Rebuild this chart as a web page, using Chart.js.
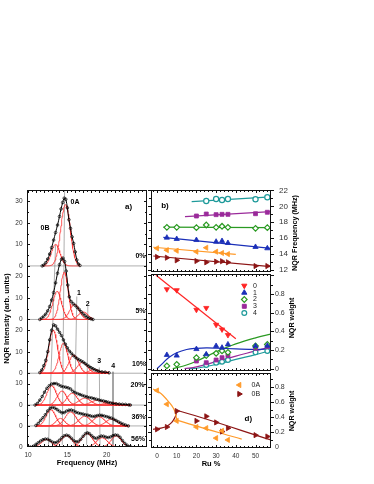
<!DOCTYPE html>
<html><head><meta charset="utf-8"><title>NQR spectra vs Ru content</title>
<script src="https://cdn.jsdelivr.net/npm/chart.js@4.4.1/dist/chart.umd.min.js"></script>
<style>
html,body{margin:0;padding:0;background:#fff;}
#wrap{position:relative;width:374px;height:484px;overflow:hidden;background:#fff;}
#wrap canvas{position:absolute;left:0;top:0;}
</style></head><body>
<div id="wrap">
<canvas id="cA" width="374" height="484"></canvas>
<canvas id="cB" width="374" height="484"></canvas>
<canvas id="cC" width="374" height="484"></canvas>
<canvas id="cD" width="374" height="484"></canvas>
</div>
<script>
// ================= DATA =================
// ---- Panel a) NQR spectra (frequency MHz, intensity arb. units) ----
const spectrumNames = ['0%', '5%', '10%', '20%', '36%', '56%'];
const spectrumOffsets = [84.2, 59.3, 34.3, 19.5, 9.8, 0];
const spectrumTickLabels = [[0, 10, 20, 30], [0, 10, 20], [0, 10, 20], [0, 10], [0], [0]];
const spectrumMinorTicks = [[5, 15, 25], [5, 15], [5, 15], [5], [5], [5]];
const freqTicks = [10, 15, 20];

const spec0 = [[11.8,0],[12.0,0.4],[12.25,1.5],[12.5,3.2],[12.75,5.5],[13.0,8.5],[13.25,12],[13.5,15.5],[13.75,19],[14.0,23],[14.2,26.5],[14.4,29.5],[14.6,31.5],[14.8,31],[15.0,27],[15.2,21.5],[15.4,17.5],[15.6,13.5],[15.8,10.5],[16.0,6.5],[16.2,2.8],[16.4,0.9],[16.6,0.2]];
const spec5 = [[11.5,0],[11.75,0.7],[12.0,1.5],[12.25,2.5],[12.5,4],[12.75,6],[13.0,9],[13.25,12.5],[13.5,17],[13.75,21.5],[14.0,25.5],[14.25,28],[14.45,28.5],[14.65,27],[14.85,22.5],[15.05,16],[15.25,10.5],[15.5,8.3],[15.75,7.3],[16.0,6.5],[16.25,5.6],[16.5,4.7],[16.75,3.6],[17.0,2.6],[17.25,1.8],[17.5,1.1],[17.75,0.6],[18.0,0.3],[18.25,0]];
const spec10 = [[11.5,0.3],[11.75,1.5],[12.0,3.5],[12.25,6],[12.5,10],[12.75,15.5],[13.0,20],[13.25,22.5],[13.5,22],[13.75,20.5],[14.0,19],[14.25,17.5],[14.5,15.5],[14.75,13.5],[15.0,11.8],[15.25,10.3],[15.5,9.3],[15.75,8.3],[16.0,7.5],[16.25,6.8],[16.5,6.2],[16.75,5.7],[17.0,5.2],[17.25,4.5],[17.5,3.8],[17.75,3.2],[18.0,2.6],[18.25,2.1],[18.5,1.6],[18.75,1.2],[19.0,0.9],[19.4,0.6],[19.8,0.5],[20.3,0.2]];
const spec20 = [[10.9,0],[11.2,0.8],[11.5,2.3],[11.8,4],[12.1,6],[12.4,7.8],[12.7,9],[13.0,9.8],[13.3,10],[13.6,10],[13.9,9.4],[14.2,8.8],[14.5,8.5],[14.8,8.3],[15.1,8],[15.4,7.5],[15.7,6.4],[16.0,5.8],[16.3,5.3],[16.6,4.9],[16.9,4.5],[17.2,4.1],[17.5,3.8],[17.8,3.5],[18.1,3.3],[18.4,3.0],[18.7,2.7],[19.0,2.4],[19.3,2.1],[19.6,1.9],[19.9,1.6],[20.2,1.3],[20.5,1.0],[20.8,0.8],[21.2,0.6],[21.6,0.45],[22.0,0.35],[22.4,0.3],[22.8,0.1],[23.0,0]];
const spec36 = [[11.0,0.2],[11.3,1.2],[11.6,2.6],[11.9,3.8],[12.2,5.2],[12.5,7],[12.8,8.2],[13.1,8.6],[13.4,8.3],[13.7,7.6],[14.0,6.8],[14.3,6.1],[14.6,6.2],[14.9,6.9],[15.2,7.3],[15.5,7.4],[15.8,7.0],[16.1,6.4],[16.4,6.0],[16.7,5.7],[17.0,5.5],[17.3,5.2],[17.6,5.0],[17.9,4.7],[18.2,4.4],[18.5,4.5],[18.8,4.8],[19.1,5.0],[19.4,4.9],[19.7,4.6],[20.0,4.3],[20.3,4.0],[20.6,3.6],[20.9,3.1],[21.2,2.5],[21.5,1.9],[21.8,1.3],[22.1,0.8],[22.4,0.4],[22.75,0]];
const spec56 = [[10.3,0],[10.7,0.4],[11.0,1.2],[11.3,2.0],[11.6,2.8],[11.9,3.4],[12.2,3.7],[12.5,3.6],[12.8,3.0],[13.1,2.3],[13.4,2.0],[13.7,2.3],[14.0,3.2],[14.3,4.3],[14.6,5.2],[14.9,5.5],[15.2,5.1],[15.5,4.1],[15.8,3.0],[16.1,2.4],[16.4,2.6],[16.7,3.6],[17.0,5.0],[17.3,6.2],[17.55,6.6],[17.8,6.2],[18.1,5.2],[18.4,4.3],[18.7,4.0],[19.0,4.6],[19.3,5.1],[19.6,5.0],[19.9,4.6],[20.2,4.4],[20.5,4.7],[20.8,5.3],[21.1,5.6],[21.4,5.4],[21.7,4.5],[22.0,3.0],[22.3,1.7],[22.6,0.8],[23.0,0.2]];
const spectra = [spec0, spec5, spec10, spec20, spec36, spec56];

// Gaussian components: [centre MHz, height, width MHz]
const comps0 = [[13.5,10,0.55],[14.75,28.5,0.6]];
const comps5 = [[13.7,13,0.55],[14.6,22,0.5],[15.9,7,0.6],[17.0,3.5,0.6]];
const comps10 = [[13.2,20,0.55],[14.5,14,0.55],[15.8,8.5,0.6],[16.9,5,0.65],[18.4,1.8,0.6],[20.0,0.6,0.6]];
const comps20 = [[13.0,9,0.6],[14.3,6.5,0.6],[15.6,5.5,0.65],[17.2,3.2,0.75],[18.8,2.2,0.8],[20.5,1.2,0.8]];
const comps36 = [[12.9,7.5,0.6],[14.1,3.5,0.55],[15.4,6.5,0.7],[17.2,4.5,0.75],[19.0,4.3,0.75],[20.6,3.2,0.7]];
const comps56 = [[12.35,3.5,0.65],[14.9,5.3,0.7],[17.5,6.3,0.7],[19.4,4.3,0.7],[21.2,5.2,0.65]];
const components = [comps0, comps5, comps10, comps20, comps36, comps56];

// peak-tracking guide lines: [f top, level top, f bottom, level bottom]
const guideLines = [[13.5,94,12.6,1],[14.65,119.5,14.35,1],[16.2,70,15.85,1],[17.6,65.5,17.45,1],[19.06,37,19.15,1],[20.8,35,20.8,1]];

// ---- Panels b) c) d): versus Ru % ----
const ruPercent = [0, 5, 10, 20, 25, 30, 33, 36, 50, 56];
const ruTicks = [0, 10, 20, 30, 40, 50];
const freqRightTicks = [12, 14, 16, 18, 20, 22];
const weightTicks = [0, 0.2, 0.4, 0.6, 0.8];

// b) NQR frequency (MHz)
const freq0A = [14.73, 14.5, 14.43, 14.3, 14.8, 14.3, 14.14, 14.0, null, null];
const freq0B = [13.64, 13.55, 13.22, 13.13, 12.97, 13.05, 13.1, 12.97, 12.5, 12.5];
const freq1 = [null, 16.07, 15.9, 15.77, null, 15.56, 15.65, 15.4, 14.9, 14.73];
const freq2 = [null, 17.37, 17.37, 17.32, 17.66, 17.37, 17.5, 17.37, 17.24, 17.32];
const freq3 = [null, null, null, 18.79, 19.04, 18.96, 19.0, 19.0, 19.08, 19.26];
const freq4 = [null, null, null, null, 20.68, 20.93, 20.8, 20.93, 20.9, 21.15];
const fitFreq0A = [[-1.9, 14.86], [40, 13.97]];
const fitFreq0B = [[-1.9, 13.76], [57.8, 12.42]];
const fitFreq1 = [[3.2, 16.1], [57.8, 14.72]];
const fitFreq2 = [[3.2, 17.4], [57.8, 17.32]];
const fitFreq3 = [[14.2, 18.72], [57.8, 19.33]];
const fitFreq4 = [[17.6, 20.6], [57.8, 21.2]];

// c) NQR weight of peaks 0..4
const weight0 = [null, 0.85, 0.84, 0.63, 0.65, 0.47, 0.42, 0.36, null, null];
const weight1 = [null, 0.147, 0.14, 0.21, 0.154, 0.243, 0.225, 0.26, 0.243, 0.246];
const weight2 = [null, 0.03, 0.047, 0.118, 0.14, 0.165, 0.19, 0.175, 0.243, 0.26];
const weight3 = [null, null, null, 0.082, 0.064, 0.093, 0.118, 0.14, 0.218, 0.235];
const weight4 = [null, null, null, null, 0.04, 0.064, 0.075, 0.093, 0.175, 0.19];
const fitWeight0 = [[-0.5, 1.0], [40, 0.32]];
const fitWeight1 = [[0, 0], [3, 0.06], [6, 0.12], [10, 0.17], [15, 0.205], [20, 0.218], [25, 0.222], [30, 0.22], [40, 0.212], [50, 0.207], [57.8, 0.212]];
const fitWeight2 = [[8, 0], [15, 0.04], [20, 0.08], [30, 0.18], [40, 0.265], [50, 0.33], [57.8, 0.37]];
const fitWeight3 = [[14, 0], [20, 0.02], [30, 0.075], [40, 0.135], [50, 0.19], [57.8, 0.235]];
const fitWeight4 = [[16, 0], [20, 0.005], [30, 0.045], [40, 0.1], [50, 0.15], [57.8, 0.195]];

// d) NQR weight of 0A and 0B
const weight0A = [0.75, 0.57, 0.35, 0.27, 0.255, 0.124, 0.22, 0.1, null, null];
const weight0B = [0.24, 0.27, 0.48, 0.35, 0.41, 0.33, 0.21, 0.255, 0.163, 0.145];
const fitWeight0A = [[-2, 0.77], [2, 0.71], [5, 0.63], [7.5, 0.55], [9, 0.48], [9.6, 0.42], [9.9, 0.38], [10, 0.36], [43, 0.11]];
const fitWeight0B = [[-2, 0.24], [2, 0.255], [5, 0.28], [7.5, 0.33], [9, 0.39], [9.7, 0.44], [10, 0.49], [57.8, 0.1]];

// ================= RENDERING =================
const FONT = "'Liberation Sans', Arial, Helvetica, sans-serif";
Chart.defaults.font.family = FONT;
Chart.defaults.color = '#222';

const C = {
  s0: '#ff2424', s0A: '#ff9a2a', s0B: '#8c1414', s1: '#1a2fb8', s2: '#2a9a22', s3: '#9a2a9a', s4: '#1e9a9a'
};

const toXY = arr => arr.map(([x, y]) => ({x, y}));
const pairUp = (xs, ys) => xs.map((x, i) => ys[i] == null ? null : {x, y: ys[i]}).filter(Boolean);
const steps = (a, b, s) => { const r = []; for (let v = a; v <= b + 1e-9; v += s) r.push(+v.toFixed(4)); return r; };

// frame + tick marks
const frameTicks = {
  id: 'frameTicks',
  afterDatasetsDraw(chart, args, opts) {
    const {ctx, chartArea: a} = chart;
    ctx.save();
    ctx.strokeStyle = '#111';
    ctx.lineWidth = 1;
    ctx.strokeRect(a.left + 0.5, a.top + 0.5, a.right - a.left - 1, a.bottom - a.top - 1);
    (opts.sides || []).forEach(s => {
      const sc = chart.scales[s.scale];
      const put = (vals, len) => vals.forEach(v => {
        const p = Math.round(sc.getPixelForValue(v)) + 0.5;
        ctx.beginPath();
        if (s.edge === 'top' || s.edge === 'bottom') {
          if (p < a.left || p > a.right) return;
          const y0 = s.edge === 'top' ? a.top : a.bottom;
          const d = (s.edge === 'top') === (s.dir === 'in') ? 1 : -1;
          ctx.moveTo(p, y0); ctx.lineTo(p, y0 + d * len);
        } else {
          if (p < a.top || p > a.bottom) return;
          const x0 = s.edge === 'left' ? a.left : a.right;
          const d = (s.edge === 'left') === (s.dir === 'in') ? 1 : -1;
          ctx.moveTo(x0, p); ctx.lineTo(x0 + d * len, p);
        }
        ctx.stroke();
      });
      put(s.minor || [], s.minLen || 1.5);
      put(s.major || [], s.majLen || 3);
    });
    ctx.restore();
  }
};

// free text + legend markers
const notes = {
  id: 'notes',
  afterDraw(chart, args, opts) {
    const ctx = chart.ctx;
    (opts.marks || []).forEach(m => {
      ctx.save();
      ctx.fillStyle = m.fill; ctx.strokeStyle = m.stroke; ctx.lineWidth = m.bw || 1;
      Chart.helpers.drawPoint(ctx, {pointStyle: m.style, radius: m.r, rotation: m.rot || 0, borderWidth: m.bw || 1}, m.x, m.y);
      ctx.restore();
    });
    (opts.texts || []).forEach(t => {
      ctx.save();
      ctx.font = t.font; ctx.fillStyle = t.color || '#000';
      ctx.textAlign = t.align || 'center'; ctx.textBaseline = 'middle';
      ctx.translate(t.x, t.y);
      if (t.rot) ctx.rotate(t.rot);
      ctx.fillText(t.text, 0, 0);
      ctx.restore();
    });
  }
};

const baseOpts = {
  responsive: false, animation: false, events: [],
  plugins: {legend: {display: false}, tooltip: {enabled: false}}
};
const noGrid = {display: false, drawTicks: false};

// ---------- Panel a ----------
const yValsA = [], yTextA = [], yMinorA = [];
spectrumOffsets.forEach((off, k) => {
  spectrumTickLabels[k].forEach(v => { yValsA.push(off + v); yTextA.push(String(v)); });
  spectrumMinorTicks[k].forEach(v => yMinorA.push(off + v));
});

const dsA = [];
spectra.forEach((sp, k) => {
  const off = spectrumOffsets[k];
  dsA.push({data: sp.map(([f, i]) => ({x: f, y: off + i})), showLine: true, borderColor: '#000', borderWidth: 1,
    tension: 0.3, pointRadius: 1.3, pointBorderWidth: 0.7, pointBorderColor: '#000', pointBackgroundColor: 'rgba(255,255,255,0)', order: 1});
  const f0 = sp[0][0], f1 = sp[sp.length - 1][0];
  components[k].forEach(([c, h, w]) => {
    const pts = steps(f0, f1, 0.05).map(f => ({x: f, y: off + h * Math.exp(-0.5 * ((f - c) / w) ** 2)}));
    dsA.push({data: pts, showLine: true, borderColor: '#ff3030', borderWidth: 0.8, pointRadius: 0, order: 2});
  });
  dsA.push({data: [{x: 9.87, y: off}, {x: 25.12, y: off}], showLine: true, borderColor: '#9a9a9a', borderWidth: 0.8, pointRadius: 0, order: 4});
});
guideLines.forEach(([fa, ya, fb, yb]) => {
  dsA.push({data: [{x: fa, y: ya}, {x: fb, y: yb}], showLine: true, borderColor: '#777', borderWidth: 0.6, pointRadius: 0, order: 3});
});

const boldF = s => `bold ${s}px ${FONT}`;
new Chart(document.getElementById('cA'), {
  type: 'scatter',
  data: {datasets: dsA},
  options: Object.assign({}, baseOpts, {
    layout: {padding: {left: 0, top: 190, right: 227, bottom: 0}},
    scales: {
      x: {type: 'linear', position: 'bottom', min: 9.87, max: 25.12,
        afterFit: s => { s.height = 37; },
        afterBuildTicks: s => { s.ticks = freqTicks.map(v => ({value: v})); },
        ticks: {autoSkip: false, maxRotation: 0, padding: 4, font: {size: 6.5}, color: '#333'},
        grid: noGrid, border: {display: false},
        title: {display: true, text: 'Frequency (MHz)', color: '#000', font: {size: 7.5, weight: 'bold'}, padding: {top: 0, bottom: 16.5}}},
      y: {type: 'linear', position: 'left', min: 0, max: 119.5,
        afterFit: s => { s.width = 27; },
        afterBuildTicks: s => { s.ticks = yValsA.map(v => ({value: v})); },
        ticks: {autoSkip: false, padding: 4.5, font: {size: 6.5}, color: '#333', callback: (v, i) => yTextA[i]},
        grid: noGrid, border: {display: false},
        title: {display: true, text: 'NQR Intensity (arb. units)', color: '#000', font: {size: 7.5, weight: 'bold'}, padding: {top: 2.5, bottom: 0}}}
    },
    plugins: Object.assign({}, baseOpts.plugins, {
      frameTicks: {sides: [
        {scale: 'x', edge: 'top', dir: 'in', major: steps(10, 25, 1), minor: steps(10.5, 24.5, 1), majLen: 3, minLen: 2},
        {scale: 'x', edge: 'bottom', dir: 'in', major: steps(10, 25, 1), minor: steps(10.5, 24.5, 1), majLen: 3, minLen: 2},
        {scale: 'y', edge: 'left', dir: 'in', major: yValsA, minor: yMinorA, majLen: 3, minLen: 2},
        {scale: 'y', edge: 'right', dir: 'in', major: yValsA, minor: yMinorA, majLen: 3, minLen: 2}
      ]},
      notes: {texts: [
        {text: 'a)', x: 128.5, y: 207, font: boldF(8)},
        {text: '0A', x: 75, y: 202.5, font: boldF(7)},
        {text: '0B', x: 45, y: 228.5, font: boldF(7)},
        {text: '1', x: 79, y: 293.5, font: boldF(7)},
        {text: '2', x: 87.7, y: 304, font: boldF(7)},
        {text: '3', x: 99.3, y: 361, font: boldF(7)},
        {text: '4', x: 113.3, y: 366, font: boldF(7)},
        {text: spectrumNames[0], x: 145.5, y: 256, font: boldF(7), align: 'right'},
        {text: spectrumNames[1], x: 145.5, y: 310.7, font: boldF(7), align: 'right'},
        {text: spectrumNames[2], x: 146, y: 364, font: boldF(7), align: 'right'},
        {text: spectrumNames[3], x: 144.5, y: 385, font: boldF(7), align: 'right'},
        {text: spectrumNames[4], x: 145.5, y: 417.3, font: boldF(7), align: 'right'},
        {text: spectrumNames[5], x: 145, y: 439.3, font: boldF(7), align: 'right'}
      ]}
    })
  }),
  plugins: [frameTicks, notes]
});

// ---------- helpers for right panels ----------
function markerSet(xs, ys, color, style, rot, hollow, r) {
  return {data: pairUp(xs, ys), showLine: false, pointStyle: style, pointRotation: rot || 0, pointRadius: r || 2.8,
    pointBackgroundColor: hollow ? '#fff' : color, pointBorderColor: color, pointBorderWidth: hollow ? 1.2 : 0.8, order: 1};
}
function fitLine(arr, color, tension) {
  return {data: toXY(arr), showLine: true, borderColor: color, borderWidth: 1.2, pointRadius: 0, tension: tension || 0, order: 2};
}
function rightPanel(id, top, bottom, yMin, yMax, yTicks, yFontSize, yPad, datasets, extra) {
  const isBottom = !!extra.showX;
  const cfg = {
    type: 'scatter',
    data: {datasets},
    options: Object.assign({}, baseOpts, {
      layout: {padding: {left: 151, top: top, right: 0, bottom: isBottom ? 0 : 484 - bottom}},
      scales: {
        x: {type: 'linear', min: -3.05, max: 57.86, display: isBottom, position: 'bottom',
          afterFit: s => { if (isBottom) s.height = 484 - bottom; },
          afterBuildTicks: s => { s.ticks = ruTicks.map(v => ({value: v})); },
          ticks: {autoSkip: false, maxRotation: 0, padding: 4, font: {size: 6.5}, color: '#333'},
          grid: noGrid, border: {display: false},
          title: {display: isBottom, text: 'Ru %', color: '#000', font: {size: 7.5, weight: 'bold'}, padding: {top: 0, bottom: 16}}},
        y: {type: 'linear', position: 'right', min: yMin, max: yMax,
          afterFit: s => { s.width = 103; },
          afterBuildTicks: s => { s.ticks = yTicks.map(v => ({value: v})); },
          ticks: {autoSkip: false, padding: yPad, font: {size: yFontSize}, color: '#333'},
          grid: noGrid, border: {display: false}}
      },
      plugins: Object.assign({}, baseOpts.plugins, {
        frameTicks: {sides: [
          {scale: 'x', edge: 'top', dir: 'in', major: ruTicks, minor: steps(-2, 56, 2), majLen: 3, minLen: 2},
          {scale: 'x', edge: 'bottom', dir: 'in', major: ruTicks, minor: steps(-2, 56, 2), majLen: 3, minLen: 2},
          {scale: 'y', edge: 'left', dir: 'out', major: extra.yMajor, minor: extra.yMinor, majLen: 3, minLen: 2},
          {scale: 'y', edge: 'right', dir: 'out', major: extra.yMajor, minor: extra.yMinor, majLen: 3, minLen: 2}
        ]},
        notes: {texts: extra.texts || [], marks: extra.marks || []}
      })
    }),
    plugins: [frameTicks, notes]
  };
  return new Chart(document.getElementById(id), cfg);
}

// ---------- Panel b ----------
rightPanel('cB', 190, 272, 11.75, 22.06, freqRightTicks, 8, 8, [
  markerSet(ruPercent, freq4, C.s4, 'circle', 0, true, 2.6),
  markerSet(ruPercent, freq3, C.s3, 'rect', 0, false, 2.8),
  markerSet(ruPercent, freq2, C.s2, 'rectRot', 0, true, 2.8),
  markerSet(ruPercent, freq1, C.s1, 'triangle', 0, false, 3),
  markerSet(ruPercent, freq0A, C.s0A, 'triangle', -90, false, 3),
  markerSet(ruPercent, freq0B, C.s0B, 'triangle', 90, false, 3),
  fitLine(fitFreq4, C.s4), fitLine(fitFreq3, C.s3), fitLine(fitFreq2, C.s2),
  fitLine(fitFreq1, C.s1), fitLine(fitFreq0A, C.s0A), fitLine(fitFreq0B, C.s0B)
], {
  yMajor: freqRightTicks, yMinor: steps(12, 22, 1),
  texts: [
    {text: 'b)', x: 165, y: 206, font: boldF(8)},
    {text: 'NQR Frequency (MHz)', x: 295.5, y: 233, font: boldF(7.2), rot: -Math.PI / 2}
  ]
});

// ---------- Panel c ----------
rightPanel('cC', 274, 371, -0.0246, 1.013, weightTicks, 7, 4, [
  markerSet(ruPercent, weight0, C.s0, 'triangle', 180, false, 3),
  markerSet(ruPercent, weight1, C.s1, 'triangle', 0, false, 3),
  markerSet(ruPercent, weight2, C.s2, 'rectRot', 0, true, 2.8),
  markerSet(ruPercent, weight3, C.s3, 'rect', 0, false, 2.8),
  markerSet(ruPercent, weight4, C.s4, 'circle', 0, true, 2.4),
  fitLine(fitWeight0, C.s0), fitLine(fitWeight1, C.s1, 0.4), fitLine(fitWeight2, C.s2, 0.4),
  fitLine(fitWeight3, C.s3, 0.4), fitLine(fitWeight4, C.s4, 0.4)
], {
  yMajor: weightTicks.concat([1.0]), yMinor: steps(0.1, 0.9, 0.2),
  marks: [
    {x: 244.3, y: 285.7, style: 'triangle', rot: 180, r: 3, fill: C.s0, stroke: C.s0},
    {x: 244.3, y: 292.7, style: 'triangle', rot: 0, r: 3, fill: C.s1, stroke: C.s1},
    {x: 244.3, y: 299.5, style: 'rectRot', r: 2.8, fill: '#fff', stroke: C.s2, bw: 1.2},
    {x: 244.3, y: 306.3, style: 'rect', r: 2.8, fill: C.s3, stroke: C.s3},
    {x: 244.3, y: 313, style: 'circle', r: 2.4, fill: '#fff', stroke: C.s4, bw: 1.2}
  ],
  texts: [
    {text: '0', x: 253, y: 285.7, font: `7px ${FONT}`, align: 'left', color: '#222'},
    {text: '1', x: 253, y: 292.7, font: `7px ${FONT}`, align: 'left', color: '#222'},
    {text: '2', x: 253, y: 299.5, font: `7px ${FONT}`, align: 'left', color: '#222'},
    {text: '3', x: 253, y: 306.3, font: `7px ${FONT}`, align: 'left', color: '#222'},
    {text: '4', x: 253, y: 313, font: `7px ${FONT}`, align: 'left', color: '#222'},
    {text: 'NQR weight', x: 292, y: 318, font: boldF(7.2), rot: -Math.PI / 2}
  ]
});

// ---------- Panel d ----------
rightPanel('cD', 373, 448, -0.006, 0.98, weightTicks, 7, 4, [
  markerSet(ruPercent, weight0A, C.s0A, 'triangle', -90, false, 3),
  markerSet(ruPercent, weight0B, C.s0B, 'triangle', 90, false, 3),
  fitLine(fitWeight0A, C.s0A, 0.3), fitLine(fitWeight0B, C.s0B, 0.3)
], {
  showX: true,
  yMajor: weightTicks, yMinor: steps(0.1, 0.9, 0.2),
  marks: [
    {x: 239.3, y: 385, style: 'triangle', rot: -90, r: 3, fill: C.s0A, stroke: C.s0A},
    {x: 239.3, y: 394, style: 'triangle', rot: 90, r: 3, fill: C.s0B, stroke: C.s0B}
  ],
  texts: [
    {text: '0A', x: 251.5, y: 385, font: `7px ${FONT}`, align: 'left', color: '#222'},
    {text: '0B', x: 251.5, y: 394, font: `7px ${FONT}`, align: 'left', color: '#222'},
    {text: 'd)', x: 248.3, y: 418.3, font: boldF(8)},
    {text: 'NQR weight', x: 292, y: 411, font: boldF(7.2), rot: -Math.PI / 2}
  ]
});
</script>
</body></html>
